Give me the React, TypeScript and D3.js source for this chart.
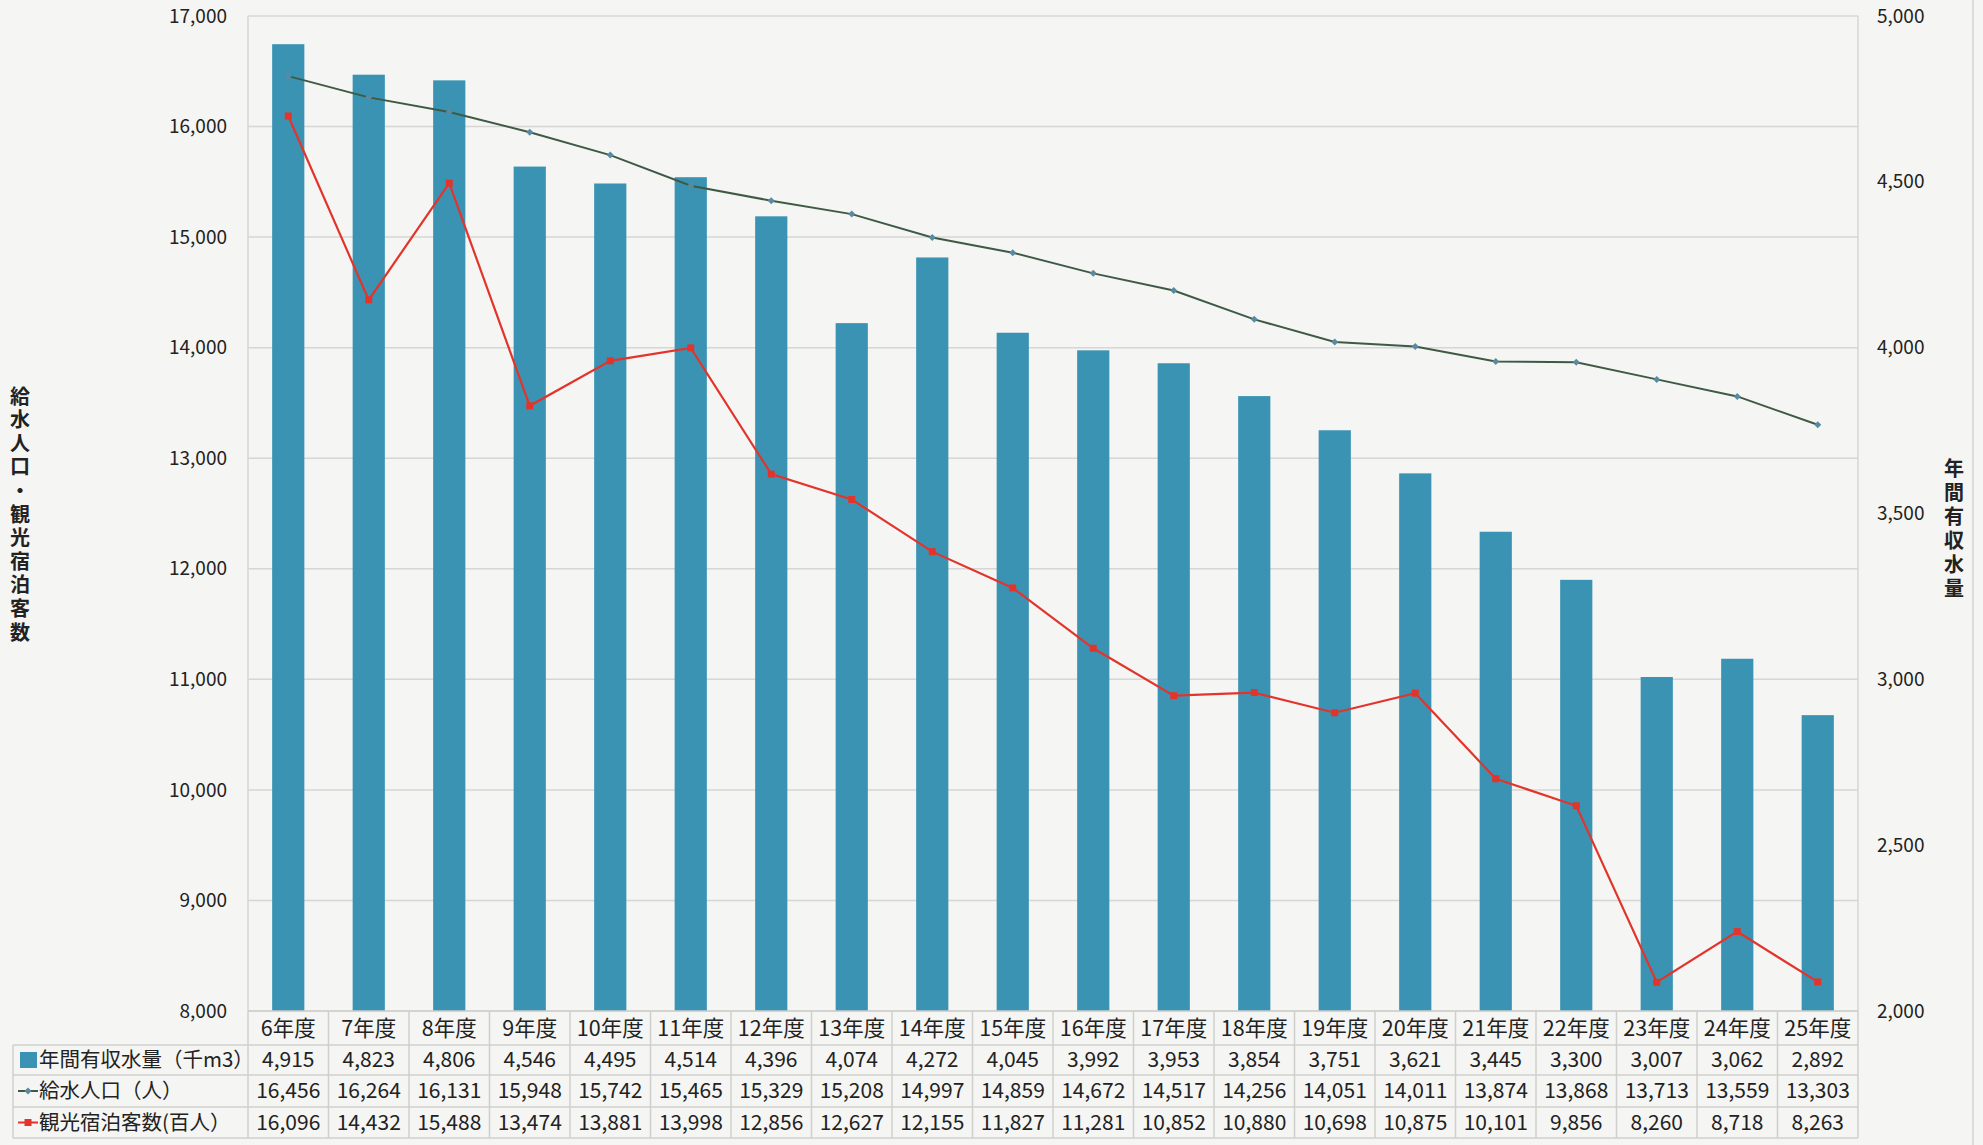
import React from "react";
import * as d3 from "d3";

const categories = ["6年度","7年度","8年度","9年度","10年度","11年度","12年度","13年度","14年度","15年度","16年度","17年度","18年度","19年度","20年度","21年度","22年度","23年度","24年度","25年度"];
const waterVolume = [4915,4823,4806,4546,4495,4514,4396,4074,4272,4045,3992,3953,3854,3751,3621,3445,3300,3007,3062,2892];
const population = [16456,16264,16131,15948,15742,15465,15329,15208,14997,14859,14672,14517,14256,14051,14011,13874,13868,13713,13559,13303];
const tourists = [16096,14432,15488,13474,13881,13998,12856,12627,12155,11827,11281,10852,10880,10698,10875,10101,9856,8260,8718,8263];
const leftTicks = [8000,9000,10000,11000,12000,13000,14000,15000,16000,17000];
const rightTicks = [2000,2500,3000,3500,4000,4500,5000];
const seriesNames = ["年間有収水量（千m3）","給水人口（人）","観光宿泊客数(百人）"];
const leftTitle = "給水人口・観光宿泊客数";
const rightTitle = "年間有収水量";

const W = 1983, H = 1145;
const L = 248, R = 1858, T = 16, B = 1011;
const FONT = "'Noto Sans CJK JP', 'Noto Sans', sans-serif";
const BAR = "#3b93b4";
const GREEN = "#3e5a45";
const RED = "#e3342c";
const fmt = d3.format(",");

export default function App() {
  const x = d3.scaleBand<string>().domain(categories).range([L, R]).paddingInner(0.6).paddingOuter(0.3);
  const band = d3.scaleBand<string>().domain(categories).range([L, R]).padding(0);
  const yL = d3.scaleLinear().domain([8000, 17000]).range([B, T]);
  const yR = d3.scaleLinear().domain([2000, 5000]).range([B, T]);
  const cx = (c: string) => (band(c) as number) + band.bandwidth() / 2;
  const lineL = d3.line<number>().x((_, i) => cx(categories[i])).y(v => yL(v));

  const rowY = [1011, 1045, 1075, 1107, 1138];
  const tableLeft = 13;

  return (
    <svg width={W} height={H} style={{ position: "absolute", left: 0, top: 0, background: "#f5f5f3" }} fontFamily={FONT}>
      <rect x={0} y={0} width={W} height={H} fill="#f5f5f3" />
      {leftTicks.map(t => (
        <line key={t} x1={L} x2={R} y1={yL(t)} y2={yL(t)} stroke="#d6d6d4" strokeWidth={1.5} />
      ))}
      <line x1={L} x2={L} y1={T} y2={B} stroke="#d6d6d4" strokeWidth={1.5} />
      <line x1={R} x2={R} y1={T} y2={B} stroke="#d6d6d4" strokeWidth={1.5} />
      {leftTicks.map(t => (
        <text key={t} x={227} y={yL(t)} dy="0.35em" textAnchor="end" fontSize={19} fill="#222">{fmt(t)}</text>
      ))}
      {rightTicks.map(t => (
        <text key={t} x={1877} y={yR(t)} dy="0.35em" textAnchor="start" fontSize={19} fill="#222">{fmt(t)}</text>
      ))}
      {waterVolume.map((v, i) => (
        <rect key={i} x={x(categories[i])} y={yR(v)} width={x.bandwidth()} height={B - yR(v)} fill={BAR} />
      ))}
      <path d={lineL(population) || ""} fill="none" stroke={GREEN} strokeWidth={2} />
      {population.map((v, i) => (
        <path key={i} d={`M${cx(categories[i]) - 3.5},${yL(v)}L${cx(categories[i])},${yL(v) - 3.5}L${cx(categories[i]) + 3.5},${yL(v)}L${cx(categories[i])},${yL(v) + 3.5}Z`} fill="#5a8aa0" />
      ))}
      <path d={lineL(tourists) || ""} fill="none" stroke={RED} strokeWidth={2.2} />
      {tourists.map((v, i) => (
        <rect key={i} x={cx(categories[i]) - 3.5} y={yL(v) - 3.5} width={7} height={7} fill={RED} />
      ))}
      <text x={20} y={386} fontSize={20} fontWeight="bold" fill="#222" letterSpacing={3.6} style={{ writingMode: "vertical-rl" as any }} textAnchor="start">{leftTitle}</text>
      <text x={1954} y={458} fontSize={20} fontWeight="bold" fill="#222" letterSpacing={4} style={{ writingMode: "vertical-rl" as any }} textAnchor="start">{rightTitle}</text>
      {rowY.map((y, i) => (
        <line key={i} x1={i === 0 ? L : tableLeft} x2={R} y1={y} y2={y} stroke="#cfcfcd" strokeWidth={1.5} />
      ))}
      <line x1={tableLeft} x2={tableLeft} y1={rowY[1]} y2={rowY[4]} stroke="#cfcfcd" strokeWidth={1.5} />
      {categories.map((c, i) => (
        <line key={i} x1={band(c) as number} x2={band(c) as number} y1={B} y2={rowY[4]} stroke="#cfcfcd" strokeWidth={1.5} />
      ))}
      <line x1={R} x2={R} y1={B} y2={rowY[4]} stroke="#cfcfcd" strokeWidth={1.5} />
      {categories.map(c => (
        <text key={c} x={cx(c)} y={(rowY[0] + rowY[1]) / 2} dy="0.35em" textAnchor="middle" fontSize={21.5} fill="#222">{c}</text>
      ))}
      {[waterVolume, population, tourists].map((arr, r) =>
        arr.map((v, i) => (
          <text key={`${r}-${i}`} x={cx(categories[i])} y={(rowY[r + 1] + rowY[r + 2]) / 2} dy="0.35em" textAnchor="middle" fontSize={21} fill="#222">{fmt(v)}</text>
        ))
      )}
      <rect x={20} y={(rowY[1] + rowY[2]) / 2 - 8} width={17} height={16} fill={BAR} />
      <line x1={18} x2={38} y1={(rowY[2] + rowY[3]) / 2} y2={(rowY[2] + rowY[3]) / 2} stroke={GREEN} strokeWidth={2} />
      <path d={`M24.5,${(rowY[2] + rowY[3]) / 2}L28,${(rowY[2] + rowY[3]) / 2 - 3.5}L31.5,${(rowY[2] + rowY[3]) / 2}L28,${(rowY[2] + rowY[3]) / 2 + 3.5}Z`} fill="#5a8aa0" />
      <line x1={18} x2={38} y1={(rowY[3] + rowY[4]) / 2} y2={(rowY[3] + rowY[4]) / 2} stroke={RED} strokeWidth={2} />
      <rect x={24.5} y={(rowY[3] + rowY[4]) / 2 - 3.5} width={7} height={7} fill={RED} />
      {seriesNames.map((s, r) => (
        <text key={s} x={39} y={(rowY[r + 1] + rowY[r + 2]) / 2} dy="0.35em" fontSize={20.5} fill="#222">{s}</text>
      ))}
      <line x1={1973} x2={1973} y1={0} y2={H} stroke="#dcdcda" strokeWidth={2} />
    </svg>
  );
}
